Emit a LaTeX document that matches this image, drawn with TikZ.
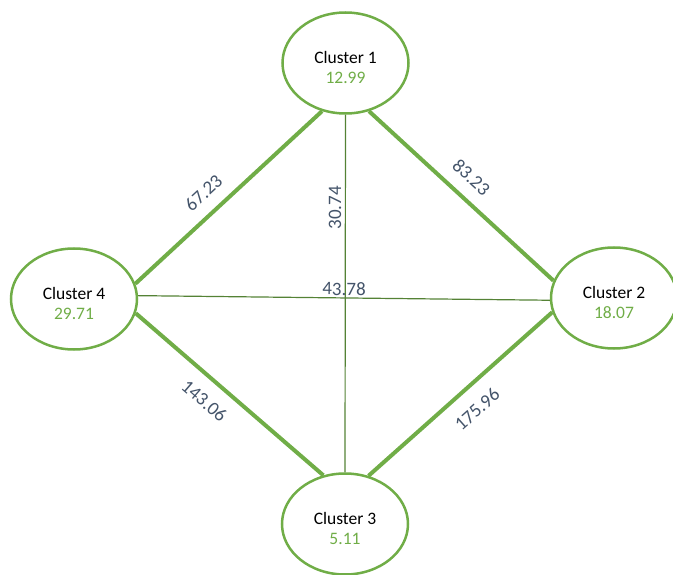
\documentclass[tikz,border=0pt]{standalone}
\usepackage{fontspec}
\setmainfont{Carlito}
\usetikzlibrary{shapes.geometric}

\definecolor{clgreen}{HTML}{70AD47}
\definecolor{lndark}{HTML}{548235}
\definecolor{wtblue}{HTML}{44546A}

\tikzstyle{cluster} = [ellipse, draw=clgreen, line width=2.5pt, minimum width=126pt, minimum height=101pt, inner sep=0pt, align=center, font=\fontsize{17.5}{20.5}\selectfont]
\tikzstyle{strong} = [draw=clgreen, line width=4pt]
\tikzstyle{weak} = [draw=lndark, line width=1.2pt]
\tikzstyle{weight} = [sloped, inner sep=2pt, text=wtblue, font=\fontsize{19}{19}\selectfont]

\newcommand{\cltext}[2]{\rule{0pt}{21pt}#1\\ \textcolor{clgreen}{#2}}

\begin{document}
\begin{tikzpicture}[x=1pt, y=-1pt]
\useasboundingbox (0,0) rectangle (673,575);

\node[cluster] (c1) at (345.5,63) {\cltext{Cluster 1}{12.99}};
\node[cluster] (c2) at (614,298) {\cltext{Cluster 2}{18.07}};
\node[cluster] (c3) at (345,524) {\cltext{Cluster 3}{5.11}};
\node[cluster] (c4) at (74,299) {\cltext{Cluster 4}{29.71}};

% outer ring
\draw[strong] (c4.14) -- node[weight, pos=0.44, above, inner sep=12pt] {67.23} (c1.244);
\draw[strong] (c1.296) -- node[weight, pos=0.48, above, inner sep=12pt] {83.23} (c2.164);
\draw[strong] (c4.347) -- node[weight, pos=0.44, below, inner sep=13pt] {143.06} (c3.114);
\draw[strong] (c3.64) -- node[weight, pos=0.51, below, inner sep=14pt] {175.96} (c2.193);
% cross links
\draw[weak] (c3.north) -- node[weight, pos=0.74, above, inner sep=3.5pt] {30.74} (c1.south);
\draw[weak] (c4.3) -- node[weight, pos=0.5, above] {43.78} (c2.182);
\end{tikzpicture}
\end{document}
